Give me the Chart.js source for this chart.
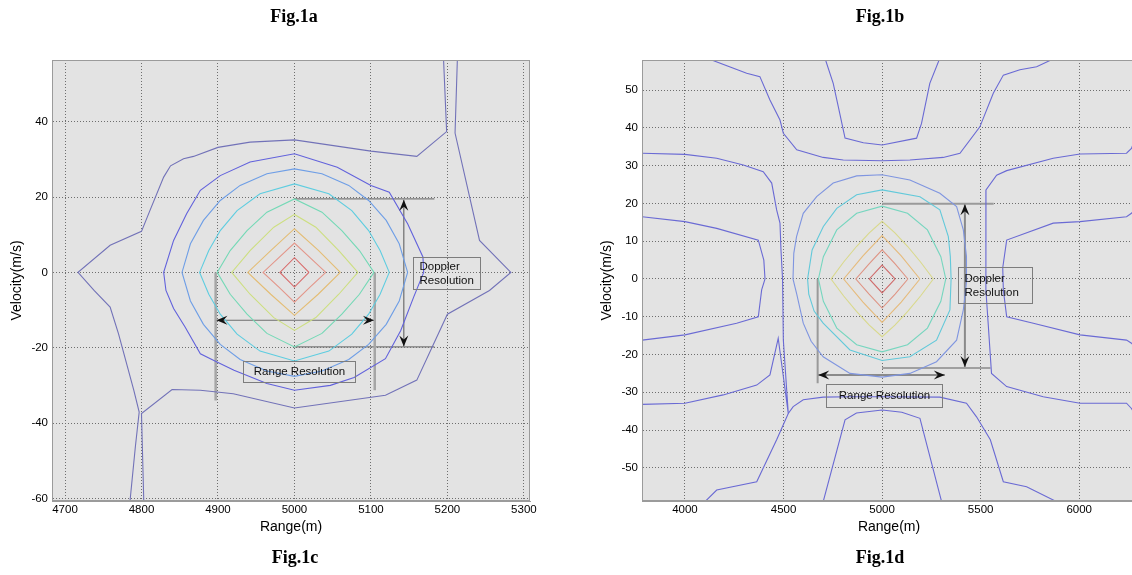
<!DOCTYPE html>
<html>
<head>
<meta charset="utf-8">
<script src="https://cdn.jsdelivr.net/npm/chart.js@4.4.1/dist/chart.umd.min.js"></script>
<style>
  body { margin: 0; background: #fff; }
  #page { position: relative; width: 1132px; height: 575px; overflow: hidden; background: #fff; }
  canvas { position: absolute; top: 0; }
  .fig { position: absolute; width: 120px; text-align: center; color: #000;
         font: bold 18px "Liberation Serif", "Times New Roman", serif; line-height: 20px; }
</style>
</head>
<body>
<div id="page">
  <canvas id="chartA" width="566" height="575" style="left:0"></canvas>
  <canvas id="chartB" width="570" height="575" style="left:566px"></canvas>
  <div class="fig" style="left:234px;top:6px">Fig.1a</div>
  <div class="fig" style="left:820px;top:6px">Fig.1b</div>
  <div class="fig" style="left:235px;top:547px">Fig.1c</div>
  <div class="fig" style="left:820px;top:547px">Fig.1d</div>
</div>
<script>
const FONT = '"Liberation Sans", Arial, sans-serif';

// ---- left plot: axes ----
const leftXTicks = [4700, 4800, 4900, 5000, 5100, 5200, 5300];
const leftYTicks = [-60, -40, -20, 0, 20, 40];

// ---- left plot: contour lines (range m, velocity m/s), inner to outer ----
const leftLevel1 = [[5019,0],[5000,3.9],[4981,0],[5000,-3.9],[5019,0]];
const leftLevel2 = [[5041,0],[5020,4.0],[5000,7.8],[4980,4.0],[4959,0],[4980,-4.0],[5000,-7.9],[5020,-4.0],[5041,0]];
const leftLevel3 = [[5060,0],[5031,5.9],[5000,11.6],[4969,5.8],[4939,0],[4969,-5.8],[5000,-11.4],[5031,-5.8],[5060,0]];
const leftLevel4 = [[5083,0],[5058,5.8],[5028,12],[5000,15.4],[4973,12],[4942,5.8],[4918,0],[4942,-5.8],[4973,-12],[5000,-15.4],[5028,-12],[5058,-5.8],[5083,0]];
const leftLevel5 = [[5104,0],[5085,5.8],[5062,11.1],[5036,16],[5000,19.5],[4964,16],[4938,11.1],[4916,5.8],[4899,0],[4916,-5.8],[4938,-11.1],[4964,-16.2],[5000,-19.8],[5036,-16.2],[5062,-11.1],[5085,-5.8],[5104,0]];
const leftLevel6 = [[5124,0],[5112,5.8],[5097,11.1],[5075,16.4],[5045,20.9],[5000,23.5],[4955,20.9],[4925,16.4],[4903,11.1],[4888,5.8],[4876,0],[4888,-5.8],[4903,-11.1],[4925,-16.4],[4955,-20.9],[5000,-23.5],[5045,-20.9],[5075,-16.4],[5097,-11.1],[5112,-5.8],[5124,0]];
const leftLevel7 = [[5148,0],[5137,7.6],[5120,13.8],[5097,19.1],[5071,23.1],[5036,26.2],[5000,27.5],[4964,26.2],[4929,23.1],[4903,19.1],[4881,13.8],[4864,7.6],[4853,0],[4864,-7.6],[4881,-13.8],[4903,-19.1],[4929,-23.1],[4964,-26.2],[5000,-27.6],[5036,-26.2],[5071,-23.1],[5097,-19.1],[5120,-13.8],[5137,-7.6],[5148,0]];
const leftLevel8 = [[5169,0],[5168,4.1],[5148,12.9],[5124,21.3],[5100,23.1],[5056,27.9],[5000,31.5],[4942,29.3],[4903,25.7],[4877,21.8],[4859,15.6],[4842,8.5],[4829,0],[4832,-4.8],[4842,-9.6],[4857,-14.5],[4877,-21.6],[4894,-23.3],[4921,-26],[4964,-29.5],[5000,-31.3],[5047,-30],[5078,-27.9],[5119,-22.9],[5139,-15.4],[5156,-6.5],[5169,0]];
const leftLevel9a = [[4785,-60.7],[4792,-46.3],[4797,-37.1],[4790,-31.3],[4770,-16.3],[4759,-9.2],[4738,-4.8],[4717,0],[4759,7.2],[4800,10.9],[4811,16.4],[4829,25.3],[4838,28.3],[4855,30.2],[4868,30.8],[4900,33.2],[4942,34.6],[5000,35.2],[5100,32.2],[5160,30.8],[5199,37.4],[5195,56.4]];
const leftLevel9b = [[4803,-60.7],[4800,-37.5],[4840,-31.1],[4877,-31.3],[4920,-32.2],[5000,-36],[5119,-32.6],[5160,-28.6],[5200,-11.1],[5255,-4.8],[5283,0],[5242,8.5],[5210,37],[5213,56.4]];

const leftContours = [leftLevel1, leftLevel2, leftLevel3, leftLevel4, leftLevel5, leftLevel6, leftLevel7, leftLevel8, leftLevel9a, leftLevel9b];
const leftColors = ['#d86a6a', '#e3968a', '#e4bd74', '#cddf80', '#74d9b6', '#5ecde0', '#6e9ee6', '#6262dc', '#7272b8', '#7272b8'];

// ---- left plot: resolution markers ----
const leftGuideTop = [[5000,19.5],[5183,19.5]];
const leftGuideBottom = [[5000,-19.8],[5183,-19.8]];
const leftDopplerArrow = [[5143,19.3],[5143,-19.7]];
const leftRangeArrow = [[4898,-12.7],[5104,-12.7]];
const leftRangeEdgeL = [[4897,0],[4897,-34]];
const leftRangeEdgeR = [[5105,0],[5105,-31.3]];

// ---- right plot: axes ----
const rightXTicks = [4000, 4500, 5000, 5500, 6000];
const rightYTicks = [-50, -40, -30, -20, -10, 0, 10, 20, 30, 40, 50];

// ---- right plot: contour lines ----
const rightLevel1 = [[5066,0],[5000,3.7],[4935,0],[5000,-3.7],[5066,0]];
const rightLevel2 = [[5131,0],[5066,4],[5000,7.7],[4934,4],[4867,0],[4934,-4],[5000,-7.7],[5066,-4],[5131,0]];
const rightLevel3 = [[5192,0],[5097,6.1],[5000,11.5],[4903,6.1],[4805,0],[4903,-6.1],[5000,-11.5],[5097,-6.1],[5192,0]];
const rightLevel4 = [[5260,0],[5195,4.5],[5130,8.6],[5065,12.2],[5000,15.3],[4935,12.2],[4870,8.6],[4805,4.5],[4741,0],[4805,-4.5],[4870,-8.6],[4935,-12.2],[5000,-15.3],[5065,-12.2],[5130,-8.6],[5195,-4.5],[5260,0]];
const rightLevel5 = [[5323,0],[5298,5.9],[5230,13],[5129,17.4],[5000,19.3],[4871,17.4],[4770,13],[4702,5.9],[4677,0],[4702,-5.9],[4770,-13],[4871,-17.4],[5000,-19.3],[5129,-17.4],[5230,-13],[5298,-5.9],[5323,0]];
const rightLevel6 = [[5350,0],[5346,6],[5336,11.2],[5293,18.3],[5192,21.8],[5000,23.6],[4871,22.3],[4770,18.7],[4702,13.9],[4645,7.7],[4622,0],[4628,-4],[4655,-8.5],[4701,-11.7],[4837,-18.8],[5000,-21.6],[5141,-20.6],[5276,-16.2],[5344,-8.2],[5350,0]];
const rightLevel7 = [[5430,0],[5428,6],[5412,13],[5378,19.2],[5293,22.7],[5141,26.2],[5000,27.6],[4871,27.3],[4752,25.4],[4668,21.8],[4600,17.4],[4566,11.2],[4552,6.8],[4548,0],[4567,-4],[4600,-11.7],[4640,-16.5],[4701,-20.6],[4837,-25],[5000,-26],[5141,-25],[5276,-21.9],[5378,-16.2],[5412,-8.2],[5430,0]];
const rightOuterTop = [[4110,58.5],[4313,54.5],[4380,53.6],[4431,47.4],[4482,42.1],[4499,38.6],[4567,34.2],[4701,32.2],[4803,31.5],[5000,31.3],[5141,31.5],[5310,32.2],[5395,33.3],[5496,40.3],[5564,49.2],[5615,54],[5699,55.4],[5784,56.2],[5877,58.5]];
const rightInnerTop = [[4710,58.5],[4752,51.8],[4778,45.6],[4812,37.3],[4905,36.1],[5000,35.5],[5175,37.3],[5200,41.2],[5242,51.8],[5293,58.5]];
const rightOuterBottom = [[4101,-59],[4161,-55.9],[4364,-53.7],[4465,-42.6],[4524,-35.6],[4549,-33.8],[4600,-32],[4701,-31.3],[4837,-31.2],[5000,-31.2],[5293,-31.3],[5428,-32.9],[5479,-36.5],[5549,-42.6],[5615,-53.7],[5733,-55],[5886,-59]];
const rightInnerBottom = [[4701,-59],[4812,-37.3],[4870,-35.5],[5000,-34.7],[5100,-35.3],[5192,-36.9],[5302,-59]];
const rightLeftOuter = [[3783,33.3],[4000,33],[4161,32],[4296,30.2],[4397,28.4],[4440,25.4],[4465,18.3],[4482,14.8],[4487,7.7],[4495,0],[4499,-16.2],[4516,-29.4],[4524,-35.6],[4473,-15.7],[4431,-25.4],[4364,-28.1],[4194,-30.7],[4000,-32.9],[3783,-33.2]];
const rightLeftInner = [[3783,16.5],[4000,15.2],[4161,13.4],[4372,10.3],[4400,5],[4406,0],[4389,-2.9],[4372,-10],[4262,-11.7],[4000,-14.8],[3783,-16.2]];
const rightRightOuter = [[6290,38],[6265,34.6],[6240,33.3],[6004,33.1],[5868,32],[5632,28.7],[5581,27.5],[5527,23.6],[5526,10],[5527,-2.9],[5538,-11.7],[5555,-25],[5632,-28.5],[5817,-31.2],[6004,-32.9],[6240,-32.9],[6265,-34.3],[6290,-36.5]];
const rightRightInner = [[6290,19],[6265,17.4],[6240,16.5],[6004,15.2],[5868,14.8],[5632,10.3],[5612,3],[5615,-2.9],[5632,-10],[5767,-11.7],[6004,-14.8],[6240,-16.2],[6265,-17],[6290,-18.5]];

const rightContours = [rightLevel1, rightLevel2, rightLevel3, rightLevel4, rightLevel5, rightLevel6, rightLevel7,
  rightOuterTop, rightInnerTop, rightOuterBottom, rightInnerBottom, rightLeftOuter, rightLeftInner, rightRightOuter, rightRightInner];
const rightColors = ['#d06c6c', '#df9484', '#e6bb7c', '#d9d98c', '#76d6bf', '#62c9da', '#7f95e0',
  '#6a6ad4', '#6a6ad4', '#6a6ad4', '#6a6ad4', '#6a6ad4', '#6a6ad4', '#6a6ad4', '#6a6ad4'];

// ---- right plot: resolution markers ----
const rightGuideTop = [[5000,19.9],[5566,19.9]];
const rightGuideBottom = [[5000,-23.6],[5550,-23.6]];
const rightDopplerArrow = [[5420,19.8],[5420,-23.3]];
const rightRangeArrow = [[4676,-25.4],[5318,-25.4]];
const rightRangeEdgeL = [[4673,0],[4673,-27.6]];

function toPoints(arr) {
    return arr.map(([x, y]) => ({ x, y }));
}

function contourSets(lines, colors) {
    return lines.map((line, i) => ({
        data: toPoints(line),
        showLine: true,
        borderColor: colors[i],
        borderWidth: 1.1,
        pointRadius: 0
    }));
}

function markSet(line, color, width, arrowHeads) {
    return {
        data: toPoints(line),
        showLine: true,
        borderColor: color,
        borderWidth: width,
        pointRadius: 0,
        arrowHeads: !!arrowHeads
    };
}

function drawHead(ctx, from, tip) {
    const ang = Math.atan2(tip.y - from.y, tip.x - from.x);
    const L = 11, W = 4.5, N = 7;
    const c = Math.cos(ang), s = Math.sin(ang);
    ctx.beginPath();
    ctx.moveTo(tip.x, tip.y);
    ctx.lineTo(tip.x - L * c - W * s, tip.y - L * s + W * c);
    ctx.lineTo(tip.x - N * c, tip.y - N * s);
    ctx.lineTo(tip.x - L * c + W * s, tip.y - L * s - W * c);
    ctx.closePath();
    ctx.fill();
}

const notesPlugin = {
    id: 'notes',
    beforeDraw(chart) {
        const { ctx, chartArea: a } = chart;
        ctx.save();
        ctx.fillStyle = '#e3e3e3';
        ctx.fillRect(a.left, a.top, a.right - a.left, a.bottom - a.top);
        ctx.restore();
    },
    afterDatasetsDraw(chart, args, opts) {
        const ctx = chart.ctx;
        ctx.save();
        ctx.fillStyle = '#111';
        chart.data.datasets.forEach((ds, i) => {
            if (!ds.arrowHeads) return;
            const pts = chart.getDatasetMeta(i).data;
            drawHead(ctx, pts[1], pts[0]);
            drawHead(ctx, pts[pts.length - 2], pts[pts.length - 1]);
        });
        const xs = chart.scales.x, ys = chart.scales.y;
        (opts.boxes || []).forEach(b => {
            const x1 = Math.round(xs.getPixelForValue(b.x1)) + 0.5;
            const x2 = Math.round(xs.getPixelForValue(b.x2)) + 0.5;
            const y1 = Math.round(ys.getPixelForValue(b.y1)) + 0.5;
            const y2 = Math.round(ys.getPixelForValue(b.y2)) + 0.5;
            ctx.strokeStyle = '#7d7d7d';
            ctx.lineWidth = 1;
            ctx.strokeRect(x1, y1, x2 - x1, y2 - y1);
            ctx.fillStyle = '#111';
            ctx.font = '11.5px ' + FONT;
            ctx.textBaseline = 'middle';
            const lh = 14;
            const cy = (y1 + y2) / 2 - (b.lines.length - 1) * lh / 2;
            b.lines.forEach((t, k) => {
                if (b.align === 'center') {
                    ctx.textAlign = 'center';
                    ctx.fillText(t, (x1 + x2) / 2, cy + k * lh);
                } else {
                    ctx.textAlign = 'left';
                    ctx.fillText(t, x1 + 6, cy + k * lh);
                }
            });
        });
        ctx.restore();
    },
    afterDraw(chart) {
        const { ctx, chartArea: a } = chart;
        ctx.save();
        ctx.strokeStyle = '#9b9b9b';
        ctx.lineWidth = 1;
        ctx.strokeRect(Math.round(a.left) + 0.5, Math.round(a.top) + 0.5,
            Math.round(a.right - a.left) - 1, Math.round(a.bottom - a.top) - 1);
        ctx.restore();
    }
};

function makeChart(id, cfg) {
    const tickFont = { family: FONT, size: 11.5 };
    const titleFont = { family: FONT, size: 14 };
    return new Chart(document.getElementById(id), {
        type: 'scatter',
        data: { datasets: cfg.datasets },
        options: {
            responsive: false,
            animation: false,
            devicePixelRatio: 1,
            events: [],
            layout: { padding: { top: 60, right: cfg.padRight, bottom: 30, left: 0 } },
            elements: { line: { tension: 0 }, point: { radius: 0 } },
            plugins: {
                legend: { display: false },
                tooltip: { enabled: false },
                notes: { boxes: cfg.boxes }
            },
            scales: {
                x: {
                    type: 'linear',
                    min: cfg.xMin,
                    max: cfg.xMax,
                    afterBuildTicks: s => { s.ticks = cfg.xTicks.map(v => ({ value: v })); },
                    afterFit: s => { s.height = 44; },
                    ticks: { autoSkip: false, maxRotation: 0, padding: 2, color: '#000', font: tickFont,
                             callback: v => String(v) },
                    grid: { color: '#6e6e6e', lineWidth: 1, drawTicks: false, borderDash: [1, 2] },
                    border: { display: true, color: '#9b9b9b', dash: [1, 2] },
                    title: { display: true, text: 'Range(m)', color: '#000', font: titleFont,
                             padding: { top: 0, bottom: 9.6 } }
                },
                y: {
                    type: 'linear',
                    min: cfg.yMin,
                    max: cfg.yMax,
                    afterBuildTicks: s => { s.ticks = cfg.yTicks.map(v => ({ value: v })); },
                    afterFit: s => { s.width = cfg.yWidth; },
                    ticks: { autoSkip: false, padding: 4, color: '#000', font: tickFont,
                             callback: v => String(v) },
                    grid: { color: '#6e6e6e', lineWidth: 1, drawTicks: false, borderDash: [1, 2] },
                    border: { display: true, color: '#9b9b9b', dash: [1, 2] },
                    title: { display: true, text: 'Velocity(m/s)', color: '#000', font: titleFont,
                             padding: { top: cfg.yTitlePad, bottom: 0 } }
                }
            }
        },
        plugins: [notesPlugin]
    });
}

document.addEventListener('DOMContentLoaded', () => {
    makeChart('chartA', {
        xMin: 4683, xMax: 5308, yMin: -60.7, yMax: 56.4,
        xTicks: leftXTicks, yTicks: leftYTicks,
        yWidth: 52, yTitlePad: 8.6, padRight: 36,
        datasets: [
            ...contourSets(leftContours, leftColors),
            markSet(leftRangeEdgeL, '#a6a6a6', 2.5),
            markSet(leftRangeEdgeR, '#a6a6a6', 2.5),
            markSet(leftGuideTop, '#7a7a7a', 1.2),
            markSet(leftGuideBottom, '#7a7a7a', 1.2),
            markSet(leftDopplerArrow, '#6e6e6e', 1.2, true),
            markSet(leftRangeArrow, '#6e6e6e', 1.2, true)
        ],
        boxes: [
            { x1: 5155, x2: 5243, y1: 4.0, y2: -4.5, lines: ['Doppler', 'Resolution'], align: 'left' },
            { x1: 4933, x2: 5079, y1: -23.6, y2: -29.2, lines: ['Range Resolution'], align: 'center' }
        ]
    });

    makeChart('chartB', {
        xMin: 3782, xMax: 6288, yMin: -58.8, yMax: 58.0,
        xTicks: rightXTicks, yTicks: rightYTicks,
        yWidth: 76, yTitlePad: 32.6, padRight: 0,
        datasets: [
            ...contourSets(rightContours, rightColors),
            markSet(rightRangeEdgeL, '#9a9a9a', 2),
            markSet(rightGuideTop, '#9a9a9a', 2),
            markSet(rightGuideBottom, '#8a8a8a', 1.5),
            markSet(rightDopplerArrow, '#8a8a8a', 2, true),
            markSet(rightRangeArrow, '#8a8a8a', 2, true)
        ],
        boxes: [
            { x1: 5385, x2: 5760, y1: 3.2, y2: -6.4, lines: ['Doppler', 'Resolution'], align: 'left' },
            { x1: 4714, x2: 5303, y1: -27.8, y2: -33.9, lines: ['Range Resolution'], align: 'center' }
        ]
    });
});
</script>
</body>
</html>
